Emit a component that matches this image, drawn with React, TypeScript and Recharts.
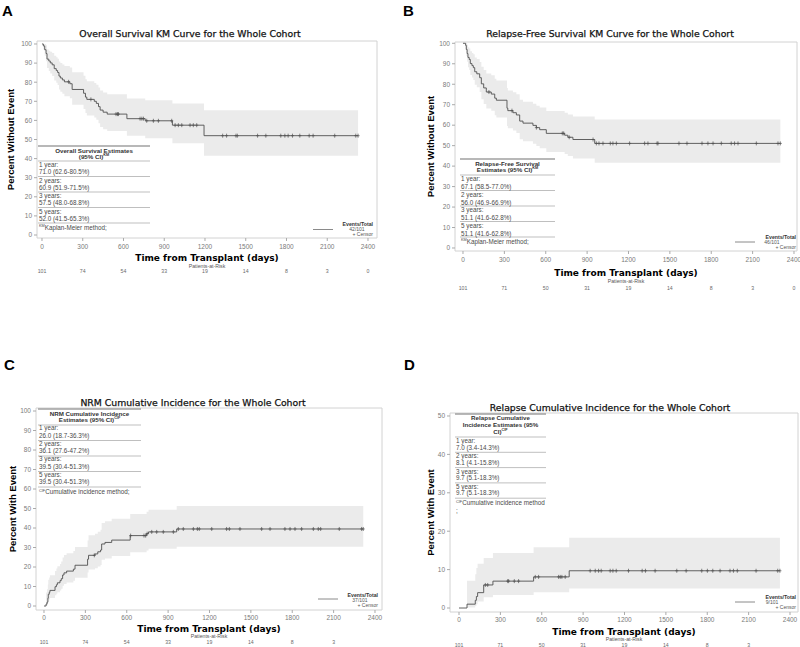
import React from 'react';
import { ComposedChart, Area, Line, Scatter, XAxis, YAxis, ReferenceArea } from 'recharts';

// ---------- shared axis values ----------
const xTicks = [0, 300, 600, 900, 1200, 1500, 1800, 2100, 2400];
const yTicks100 = [0, 10, 20, 30, 40, 50, 60, 70, 80, 90, 100];
const yTicks50 = [0, 10, 20, 30, 40, 50];

// ---------- Panel A: Overall survival ----------
const osTime = [0, 10, 20, 30, 37, 50, 61, 75, 90, 105, 115, 125, 135, 150, 165, 205, 222, 306, 320, 330, 385, 400, 416, 428, 450, 480, 625, 760, 960, 1193, 2327];
const osEst = [100, 99, 97, 95, 92.1, 91.1, 90.1, 89.1, 87.1, 86.1, 85.1, 83.2, 82.2, 81.2, 80.2, 79.2, 76.2, 74.2, 72.2, 71.0, 70.0, 68.9, 67.2, 65.4, 64.3, 63.3, 60.9, 59.8, 57.5, 52.0, 52.0];
const osLow = [100, 97.1, 93.8, 91.0, 87.4, 85.9, 84.6, 83.3, 80.9, 79.7, 78.5, 76.2, 75.0, 73.9, 72.7, 71.6, 68.2, 66.0, 63.9, 62.6, 61.5, 60.3, 58.5, 56.6, 55.4, 54.4, 51.9, 50.6, 48.0, 41.5, 41.5];
const osHigh = [100, 100, 100, 99.3, 97.1, 96.5, 95.9, 95.3, 93.9, 93.1, 92.3, 90.9, 90.1, 89.3, 88.5, 87.7, 85.2, 83.4, 81.6, 80.5, 79.6, 78.7, 77.2, 75.6, 74.6, 73.7, 71.5, 70.6, 68.8, 65.3, 65.3];
const osCensor = [196, 360, 545, 556, 563, 722, 735, 747, 771, 820, 857, 955, 980, 1004, 1029, 1090, 1114, 1139, 1330, 1359, 1428, 1438, 1587, 1648, 1758, 1788, 1812, 1844, 1898, 1967, 1996, 2155, 2310, 2327];
const osRisk = ['101', '74', '54', '33', '19', '14', '8', '3', '0'];
const osTable = [['1 year:', '71.0 (62.6-80.5%)'], ['2 years:', '60.9 (51.9-71.5%)'], ['3 years:', '57.5 (48.0-68.8%)'], ['5 years:', '52.0 (41.5-65.3%)']];

// ---------- Panel B: Relapse-free survival ----------
const rfsTime = [0, 19, 24, 30, 36, 45, 53, 65, 75, 85, 100, 121, 133, 150, 169, 205, 230, 242, 319, 325, 362, 387, 411, 435, 507, 532, 556, 604, 737, 760, 797, 955, 2301];
const rfsEst = [100, 99, 97, 95, 93.1, 92.1, 90.1, 89.1, 88.1, 86.1, 85.1, 83.2, 80.2, 78.2, 76.2, 75.2, 73.2, 72.2, 68.3, 67.1, 66.1, 65.0, 62.0, 61.0, 59.9, 58.8, 57.8, 56.0, 55.1, 54.1, 53.0, 51.1, 51.1];
const rfsLow = [100, 97.1, 93.8, 91.0, 88.3, 87.0, 84.5, 83.3, 82.1, 79.7, 78.5, 76.2, 72.7, 70.4, 68.2, 67.0, 64.8, 63.7, 59.6, 58.5, 57.4, 56.2, 53.1, 52.1, 50.9, 49.8, 48.7, 46.9, 45.9, 44.9, 43.7, 41.6, 41.6];
const rfsHigh = [100, 100, 100, 99.3, 98.1, 97.5, 96.1, 95.3, 94.6, 93.1, 92.3, 90.9, 88.5, 86.9, 85.2, 84.4, 82.7, 81.8, 78.2, 77.0, 76.1, 75.1, 72.4, 71.5, 70.5, 69.5, 68.6, 66.9, 66.1, 65.2, 64.3, 62.8, 62.8];
const rfsCensor = [188, 355, 532, 720, 730, 770, 943, 967, 986, 1015, 1068, 1087, 1112, 1208, 1317, 1341, 1407, 1414, 1566, 1624, 1733, 1776, 1813, 1873, 1945, 1969, 1994, 2127, 2284, 2301];
const rfsRisk = ['101', '71', '50', '31', '19', '14', '8', '3', '0'];
const rfsTable = [['1 year:', '67.1 (58.5-77.0%)'], ['2 years:', '56.0 (46.9-66.9%)'], ['3 years:', '51.1 (41.6-62.8%)'], ['5 years:', '51.1 (41.6-62.8%)']];

// ---------- Panel C: NRM cumulative incidence ----------
const nrmTime = [0, 15, 22, 28, 31, 38, 43, 80, 90, 97, 116, 125, 135, 145, 164, 213, 225, 316, 323, 370, 390, 410, 418, 442, 491, 625, 744, 758, 962, 2315];
const nrmEst = [0, 1.0, 2.0, 4.0, 6.0, 7.0, 8.0, 9.9, 10.9, 11.9, 13.0, 14.0, 15.9, 17.0, 17.9, 18.9, 20.9, 24.0, 26.0, 26.7, 27.8, 28.7, 31.8, 32.6, 33.8, 36.1, 37.1, 38.0, 39.5, 39.5];
const nrmLow = [0, 0.1, 0.4, 1.5, 2.7, 3.4, 4.1, 5.5, 6.3, 7.1, 8.0, 8.8, 10.4, 11.3, 12.1, 12.9, 14.5, 17.2, 18.7, 19.3, 20.2, 21.0, 23.7, 24.4, 25.6, 27.6, 28.5, 29.3, 30.4, 30.4];
const nrmHigh = [0, 6.9, 8.6, 11.0, 13.4, 14.6, 15.8, 18.0, 19.2, 20.4, 21.6, 22.8, 24.9, 26.1, 27.1, 28.2, 30.3, 33.6, 36.3, 37.0, 38.1, 39.1, 42.6, 43.4, 44.7, 47.2, 48.3, 49.4, 51.3, 51.3];
const nrmCensor = [365, 628, 725, 737, 748, 781, 817, 865, 938, 974, 1010, 1083, 1112, 1126, 1216, 1324, 1344, 1421, 1578, 1639, 1747, 1784, 1820, 1868, 1953, 1989, 2006, 2141, 2303, 2315];
const nrmRisk = ['101', '74', '54', '33', '19', '14', '8', '3'];
const nrmTable = [['1 year:', '26.0 (18.7-36.3%)'], ['2 years:', '36.1 (27.6-47.2%)'], ['3 years:', '39.5 (30.4-51.3%)'], ['5 years:', '39.5 (30.4-51.3%)']];

// ---------- Panel D: Relapse cumulative incidence ----------
const relTime = [0, 58, 118, 126, 135, 179, 246, 541, 799, 2327];
const relEst = [0, 1.0, 2.0, 3.0, 4.0, 6.0, 7.0, 8.1, 9.7, 9.7];
const relLow = [0, 0.1, 0.5, 1.0, 1.7, 2.8, 3.4, 4.1, 5.1, 5.1];
const relHigh = [0, 7.1, 8.8, 10.4, 11.5, 13.0, 14.3, 15.8, 18.3, 18.3];
const relCensor = [191, 208, 353, 360, 401, 432, 553, 577, 722, 734, 746, 770, 951, 988, 1012, 1031, 1096, 1116, 1140, 1229, 1328, 1352, 1422, 1579, 1647, 1760, 1801, 1840, 1893, 1965, 1990, 2018, 2154, 2311, 2327];
const relRisk = ['101', '71', '50', '31', '19', '14', '8', '3'];
const relTable = [['1 year:', '7.0 (3.4-14.3%)'], ['2 years:', '8.1 (4.1-15.8%)'], ['3 years:', '9.7 (5.1-18.3%)'], ['5 years:', '9.7 (5.1-18.3%)']];

// ---------- helpers ----------
const buildRows = (t: number[], e: number[], lo: number[], hi: number[]) =>
  t.map((v, i) => ({ t: v, est: e[i], ci: [lo[i], hi[i]] }));

const stepAt = (t: number[], e: number[], x: number) => {
  let v = e[0];
  for (let i = 0; i < t.length; i++) if (t[i] <= x) v = e[i];
  return v;
};

const buildCensor = (c: number[], t: number[], e: number[]) => c.map((x) => ({ t: x, v: stepAt(t, e, x) }));

const SANS = '"Liberation Sans", Arial, sans-serif';
const DEJAVU = '"DejaVu Sans", Verdana, sans-serif';
const CURVE = '#505050';

const CensorMark = (props: any) => {
  const { cx, cy } = props;
  if (cx == null || cy == null) return null;
  return (
    <g>
      <line x1={cx} x2={cx} y1={cy - 2} y2={cy + 2} stroke={CURVE} strokeWidth={0.7} />
      <line x1={cx - 1.5} x2={cx + 1.5} y1={cy} y2={cy} stroke={CURVE} strokeWidth={0.7} />
    </g>
  );
};

type PanelCfg = {
  left: number; top: number; width: number; height: number;
  margin: { top: number; right: number; left: number; bottom: number };
  yAxisW: number; axisH: number;
  xDomain: [number, number]; yDomain: [number, number]; yTicks: number[];
  yLabel: string; yLabelX: number;
  tickOff: number; titleOff: number; parOff: number; riskOff: number;
};

function Panel({ cfg, rows, censors, risk }: { cfg: PanelCfg; rows: any[]; censors: any[]; risk: string[] }) {
  const XTick = (p: any) => {
    const { x, payload } = p;
    const idx = xTicks.indexOf(payload.value);
    const pb = p.y - 5;
    return (
      <g>
        <text x={x} y={pb + cfg.tickOff} textAnchor="middle" fontSize={6.5} fill="#7a7a7a" fontFamily={SANS}>{payload.value}</text>
        {idx >= 0 && idx < risk.length ? (
          <text x={x} y={pb + cfg.riskOff} textAnchor="middle" fontSize={5.2} fill="#6a6a6a" fontFamily={SANS}>{risk[idx]}</text>
        ) : null}
      </g>
    );
  };
  const XLabel = (p: any) => {
    const vb = p.viewBox || {};
    const cx = vb.x + vb.width / 2;
    return (
      <g>
        <text x={cx} y={vb.y + cfg.titleOff} textAnchor="middle" fontSize={9} fontWeight="bold" fill="#000" fontFamily={DEJAVU}>Time from Transplant (days)</text>
        <text x={cx} y={vb.y + cfg.parOff} textAnchor="middle" fontSize={5.2} fill="#555" fontFamily={SANS}>Patients-at-Risk</text>
      </g>
    );
  };
  const YLabel = (p: any) => {
    const vb = p.viewBox || {};
    const cy = vb.y + vb.height / 2;
    const cx = cfg.yLabelX;
    return (
      <text x={cx} y={cy} transform={`rotate(-90 ${cx} ${cy})`} textAnchor="middle" dominantBaseline="central" fontSize={9.5} fontWeight="bold" fill="#000" fontFamily={SANS}>{cfg.yLabel}</text>
    );
  };
  return (
    <div style={{ position: 'absolute', left: cfg.left, top: cfg.top, width: cfg.width, height: cfg.height }}>
      <ComposedChart width={cfg.width} height={cfg.height} data={rows} margin={cfg.margin}>
        <XAxis
          dataKey="t" type="number" domain={cfg.xDomain} ticks={xTicks} allowDataOverflow interval={0}
          height={cfg.axisH} tickSize={3} tickMargin={2} axisLine={false}
          tickLine={{ stroke: '#aaa' }} tick={XTick} label={{ content: XLabel }}
        />
        <YAxis
          type="number" domain={cfg.yDomain} ticks={cfg.yTicks} allowDataOverflow interval={0}
          width={cfg.yAxisW} tickSize={3} tickMargin={2} axisLine={false}
          tickLine={{ stroke: '#aaa' }} tick={{ fontSize: 6.5, fill: '#7a7a7a', fontFamily: SANS }}
          label={{ content: YLabel }}
        />
        <ReferenceArea x1={cfg.xDomain[0]} x2={cfg.xDomain[1]} y1={cfg.yDomain[0]} y2={cfg.yDomain[1]} fill="none" stroke="#d2d2d2" strokeWidth={1} ifOverflow="visible" />
        <Area dataKey="ci" type="stepAfter" fill="#ebebeb" fillOpacity={1} stroke="none" isAnimationActive={false} />
        <Line dataKey="est" type="stepAfter" stroke={CURVE} strokeWidth={0.9} dot={false} isAnimationActive={false} />
        <Scatter data={censors} dataKey="v" shape={CensorMark} isAnimationActive={false} />
      </ComposedChart>
    </div>
  );
}

const cfgA: PanelCfg = {
  left: 0, top: 0, width: 400, height: 280,
  margin: { top: 41, right: 23, left: 0, bottom: 0 }, yAxisW: 37, axisH: 42,
  xDomain: [-36.8, 2466.3], yDomain: [-1.57, 101.57], yTicks: yTicks100,
  yLabel: 'Percent Without Event', yLabelX: 10,
  tickOff: 10.5, titleOff: 22.5, parOff: 29.5, riskOff: 35,
};
const cfgB: PanelCfg = {
  left: 400, top: 0, width: 400, height: 300,
  margin: { top: 42, right: 3, left: 0, bottom: 0 }, yAxisW: 55, axisH: 49,
  xDomain: [-58, 2421.8], yDomain: [-1.47, 100.64], yTicks: yTicks100,
  yLabel: 'Percent Without Event', yLabelX: 30,
  tickOff: 10.5, titleOff: 24.5, parOff: 31.5, riskOff: 39,
};
const cfgC: PanelCfg = {
  left: 0, top: 320, width: 400, height: 327,
  margin: { top: 88, right: 18, left: 0, bottom: 0 }, yAxisW: 36, axisH: 37,
  xDomain: [-58, 2450.8], yDomain: [-2.05, 101.54], yTicks: yTicks100,
  yLabel: 'Percent With Event', yLabelX: 12,
  tickOff: 9.5, titleOff: 21.5, parOff: 27.5, riskOff: 34,
};
const cfgD: PanelCfg = {
  left: 400, top: 330, width: 400, height: 317,
  margin: { top: 83, right: 2, left: 0, bottom: 0 }, yAxisW: 50, axisH: 35,
  xDomain: [-65.3, 2458], yDomain: [-1.04, 50.78], yTicks: yTicks50,
  yLabel: 'Percent With Event', yLabelX: 30,
  tickOff: 9.5, titleOff: 22.5, parOff: 28.5, riskOff: 34.5,
};

// ---------- overlay (letters, titles, estimate tables, legends) ----------
type TableCfg = {
  x: number; w: number; top: number; header: { text: string; sup?: string }[]; headerBase: number[];
  sep1: number; rowH: number; labelOff: number; valueOff: number; rows: string[][];
  foot: { sup: string; text: string }; footOff: number; extra?: string;
};

function EstTable({ c }: { c: TableCfg }) {
  const seps = [0, 1, 2, 3, 4].map((i) => c.sep1 + i * c.rowH);
  const cx = c.x + c.w / 2;
  return (
    <g fontFamily={SANS}>
      <line x1={c.x} x2={c.x + c.w} y1={c.top} y2={c.top} stroke="#a0a0a0" strokeWidth={1.3} />
      {c.header.map((h, i) => (
        <text key={i} x={cx} y={c.headerBase[i]} textAnchor="middle" fontSize={6.2} fontWeight="bold" fill="#333">
          {h.text}{h.sup ? <tspan fontSize={3.8} dy={-2.5}>{h.sup}</tspan> : null}
        </text>
      ))}
      {seps.map((s, i) => (
        <line key={i} x1={c.x} x2={c.x + c.w} y1={s} y2={s} stroke="#b8b8b8" strokeWidth={0.9} />
      ))}
      {c.rows.map((r, i) => (
        <g key={i}>
          <text x={c.x + 1} y={seps[i] + c.labelOff} fontSize={6.3} fill="#4a4a4a">{r[0]}</text>
          <text x={c.x + 1} y={seps[i] + c.valueOff} fontSize={6.3} fill="#4a4a4a">{r[1]}</text>
        </g>
      ))}
      <text x={c.x + 1} y={seps[4] + c.footOff} fontSize={6.3} fill="#4a4a4a">
        <tspan fontSize={3.8} dy={-2.5}>{c.foot.sup}</tspan><tspan dy={2.5}>{c.foot.text}</tspan>
      </text>
      {c.extra ? <text x={c.x + 1} y={seps[4] + c.footOff + 8} fontSize={6.3} fill="#4a4a4a">{c.extra}</text> : null}
    </g>
  );
}

function LegendBox({ lineX1, lineX2, lineY, right, base, countX, count }: any) {
  return (
    <g fontFamily={SANS}>
      <line x1={lineX1} x2={lineX2} y1={lineY} y2={lineY} stroke="#8a8a8a" strokeWidth={1} />
      <text x={right} y={base} textAnchor="end" fontSize={5.2} fontWeight="bold" fill="#333">Events/Total</text>
      <text x={countX} y={base + 5} textAnchor="middle" fontSize={5} fill="#555">{count}</text>
      <text x={right} y={base + 10} textAnchor="end" fontSize={5} fill="#555">+ Censor</text>
    </g>
  );
}

const tA: TableCfg = {
  x: 38, w: 112, top: 146, header: [{ text: 'Overall Survival Estimates' }, { text: '(95% CI)', sup: 'KM' }], headerBase: [152.5, 158.5],
  sep1: 161, rowH: 15.5, labelOff: 6, valueOff: 13, rows: osTable, foot: { sup: 'KM', text: 'Kaplan-Meier method;' }, footOff: 6.5,
};
const tB: TableCfg = {
  x: 460, w: 95, top: 159, header: [{ text: 'Relapse-Free Survival' }, { text: 'Estimates (95% CI)', sup: 'KM' }], headerBase: [166, 171.5],
  sep1: 175, rowH: 15.5, labelOff: 6, valueOff: 14, rows: rfsTable, foot: { sup: 'KM', text: 'Kaplan-Meier method;' }, footOff: 6.5,
};
const tC: TableCfg = {
  x: 38, w: 103, top: 409, header: [{ text: 'NRM Cumulative Incidence' }, { text: 'Estimates (95% CI)', sup: 'CIF' }], headerBase: [416, 421.5],
  sep1: 425, rowH: 15.5, labelOff: 5, valueOff: 12.5, rows: nrmTable, foot: { sup: 'CIF', text: 'Cumulative incidence method;' }, footOff: 7,
};
const tD: TableCfg = {
  x: 455, w: 91, top: 414, header: [{ text: 'Relapse Cumulative' }, { text: 'Incidence Estimates (95%' }, { text: 'CI)', sup: 'CIF' }], headerBase: [420, 427, 433.5],
  sep1: 437, rowH: 15.3, labelOff: 6, valueOff: 12.5, rows: relTable, foot: { sup: 'CIF', text: 'Cumulative incidence method' }, footOff: 7, extra: ';',
};

function Overlay() {
  const title = (x: number, y: number, s: string) => (
    <text x={x} y={y} textAnchor="middle" fontSize={9.3} fill="#111" fontFamily={DEJAVU} stroke="#111" strokeWidth={0.25}>{s}</text>
  );
  const letter = (x: number, y: number, s: string) => (
    <text x={x} y={y} fontSize={15} fontWeight="bold" fill="#000" fontFamily={SANS}>{s}</text>
  );
  return (
    <svg width={800} height={647} style={{ position: 'absolute', left: 0, top: 0, pointerEvents: 'none' }}>
      {letter(2, 15.5, 'A')}
      {letter(403, 15.5, 'B')}
      {letter(4, 370, 'C')}
      {letter(404, 370, 'D')}
      {title(190, 37, 'Overall Survival KM Curve for the Whole Cohort')}
      {title(610, 36.5, 'Relapse-Free Survival KM Curve for the Whole Cohort')}
      {title(193, 405.5, 'NRM Cumulative Incidence for the Whole Cohort')}
      {title(610, 410.5, 'Relapse Cumulative Incidence for the Whole Cohort')}
      <EstTable c={tA} />
      <EstTable c={tB} />
      <EstTable c={tC} />
      <EstTable c={tD} />
      <LegendBox lineX1={313} lineX2={333} lineY={229.5} right={373} base={226} countX={357} count="42/101" />
      <LegendBox lineX1={735} lineX2={755} lineY={242} right={796} base={239} countX={772} count="46/101" />
      <LegendBox lineX1={318} lineX2={338} lineY={599} right={378} base={597} countX={360} count="37/101" />
      <LegendBox lineX1={735} lineX2={755} lineY={602} right={796} base={599} countX={772} count="9/101" />
    </svg>
  );
}

export default function App() {
  const rowsA = buildRows(osTime, osEst, osLow, osHigh);
  const rowsB = buildRows(rfsTime, rfsEst, rfsLow, rfsHigh);
  const rowsC = buildRows(nrmTime, nrmEst, nrmLow, nrmHigh);
  const rowsD = buildRows(relTime, relEst, relLow, relHigh);
  return (
    <div style={{ position: 'absolute', left: 0, top: 0, width: 800, height: 647, background: '#fff', overflow: 'hidden', fontFamily: SANS }}>
      <Panel cfg={cfgA} rows={rowsA} censors={buildCensor(osCensor, osTime, osEst)} risk={osRisk} />
      <Panel cfg={cfgB} rows={rowsB} censors={buildCensor(rfsCensor, rfsTime, rfsEst)} risk={rfsRisk} />
      <Panel cfg={cfgC} rows={rowsC} censors={buildCensor(nrmCensor, nrmTime, nrmEst)} risk={nrmRisk} />
      <Panel cfg={cfgD} rows={rowsD} censors={buildCensor(relCensor, relTime, relEst)} risk={relRisk} />
      <Overlay />
    </div>
  );
}
